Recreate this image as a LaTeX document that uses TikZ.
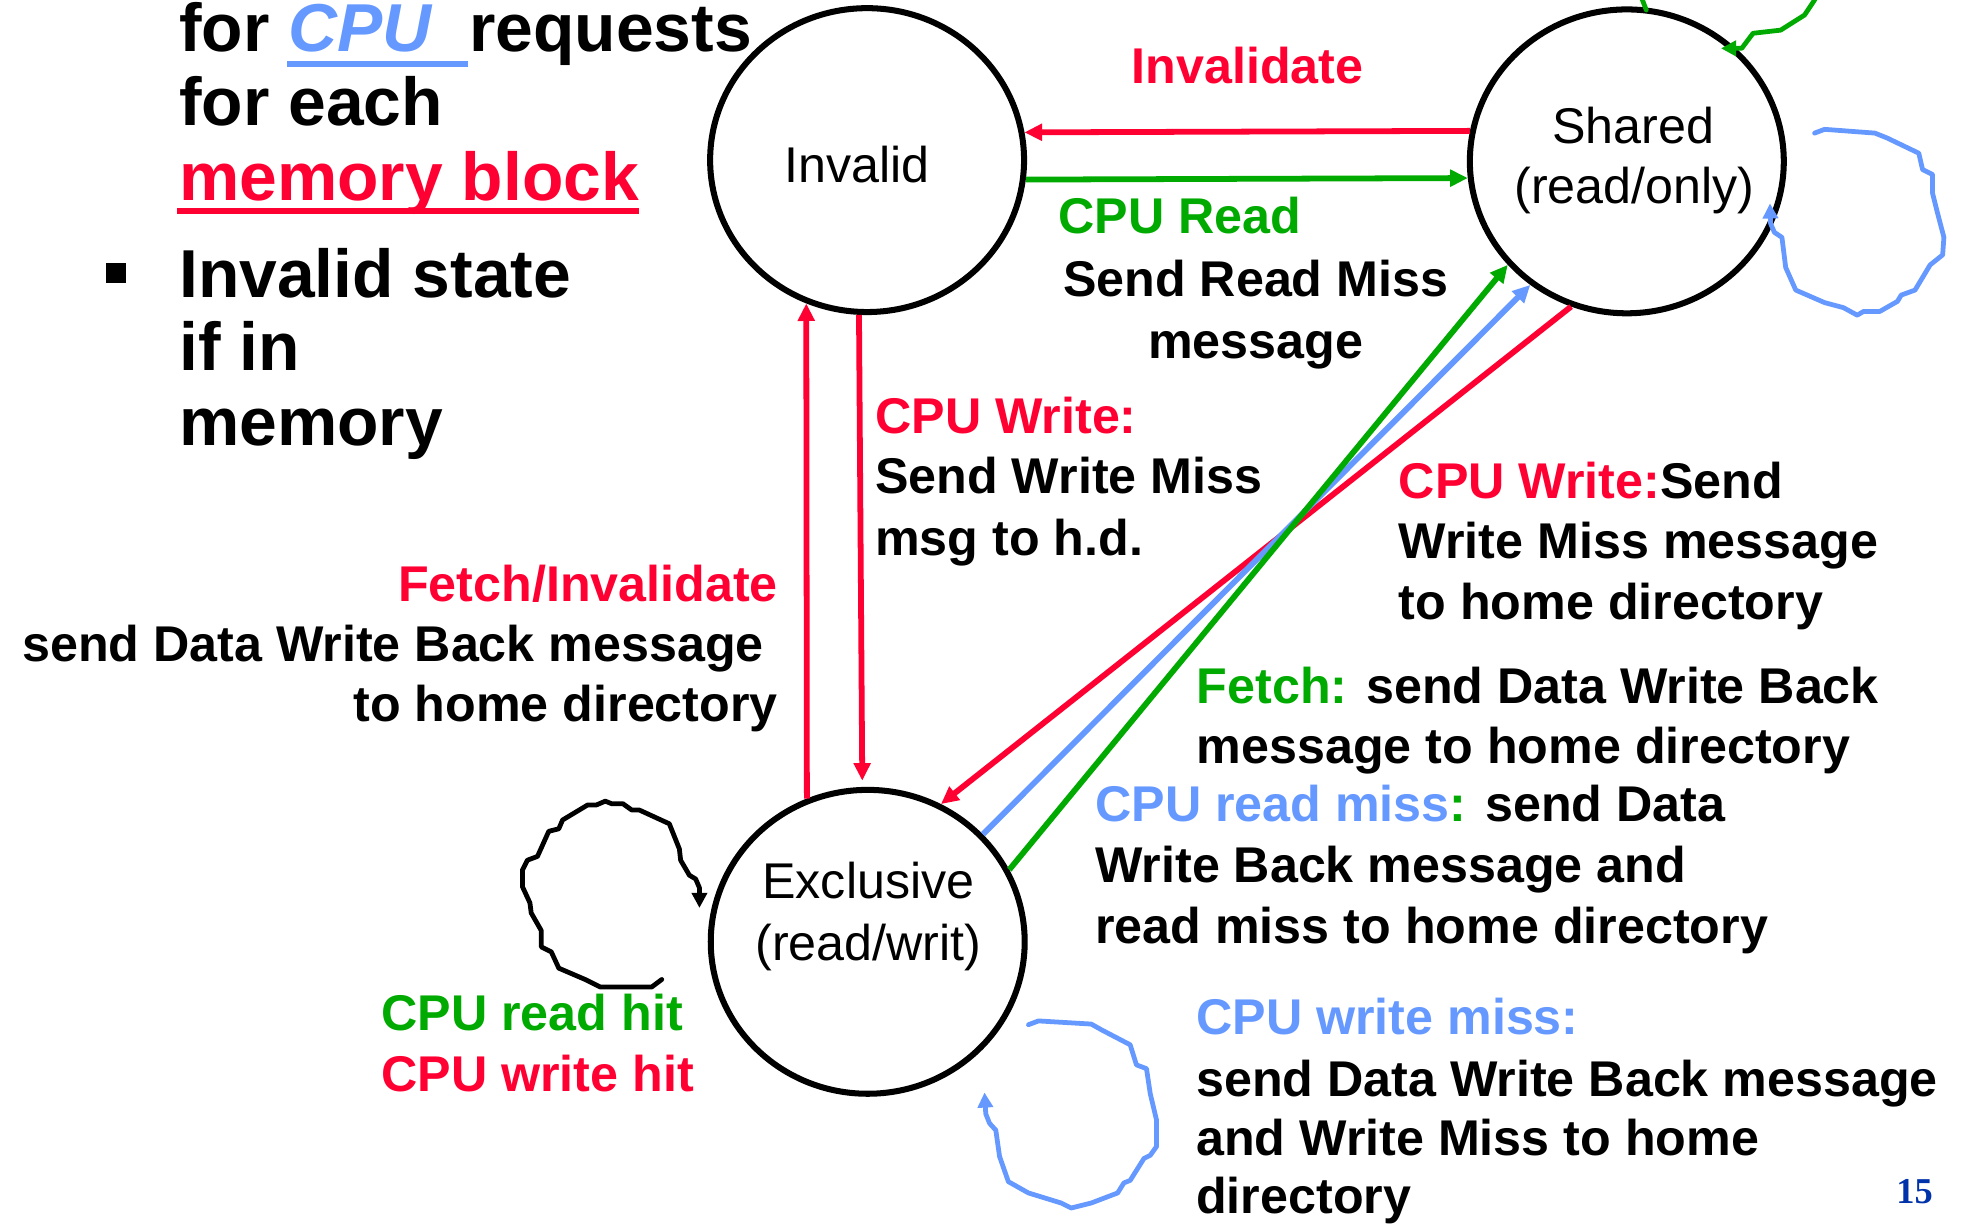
\documentclass[tikz,border=0pt]{standalone}
\usepackage{fontspec}
\setmainfont{Liberation Sans}
\newfontfamily\serifnum{Liberation Serif}
\usetikzlibrary{arrows.meta,shapes.geometric}
\definecolor{cred}{RGB}{255,0,51}
\definecolor{cgreen}{RGB}{0,170,0}
\definecolor{cblue}{RGB}{102,153,255}
\definecolor{cnavy}{RGB}{0,51,170}
\begin{document}
\begin{tikzpicture}[x=1pt,y=-1pt,
  state/.style={ellipse, draw, line width=4.8pt, minimum width=250pt, minimum height=242pt, inner sep=0pt},
  lbl/.style={anchor=base west, inner sep=0pt, font=\fontsize{40}{48}\selectfont\bfseries},
  lblr/.style={lbl, anchor=base east},
  lblc/.style={lbl, anchor=base},
  big/.style={anchor=base west, inner sep=0pt, font=\fontsize{54}{59}\selectfont\bfseries},
  stext/.style={anchor=base, inner sep=0pt, font=\fontsize{40}{48}\selectfont},
  conn/.style={line width=4.6pt, -{Triangle[length=14pt,width=13pt]}},
  loopc/.style={line width=3.8pt, line join=round, line cap=round, -{Triangle[length=12pt,width=12pt]}},
]
\clip (0,0) rectangle (1568,976);
\fill[white] (0,0) rectangle (1568,976);

% states
\node[state] (inv) at (690.5,127.5) {};
\node[state] (sh) at (1295.5,128.5) {};
\node[state] (ex) at (691,750) {};
\node[stext] (invl) at (682.5,145.5) {Invalid};
\node[stext] (shl1) at (1300.6,114) {Shared};
\node[stext] (shl2) at (1301.5,162) {(read/only)};
\node[stext] (exl1) at (691.5,715.4) {Exclusive};
\node[stext] (exl2) at (691.5,764.5) {(read/writ)};

% connectors
\draw[conn, cred] (sh.169.1) -- (inv.10.3);
\draw[conn, cgreen] (inv.-7) -- (sh.186.6);
\draw[conn, cred, shorten >=5pt] (inv.267.4) -- (ex.92.6);
\draw[conn, cred] (ex.113.5) -- (inv.247.1);
\draw[conn, cred] (sh.249.5) -- (ex.62.8);
\draw[conn, cblue] (ex.43.2) -- (sh.232);
\draw[conn, cgreen] (ex.27) -- (sh.221);

% self loops
\draw[loopc, black] (527,780) -- (519,786) -- (478,786) -- (466,780) -- (445,771) -- (439,758) -- (431,754) -- (431,741) -- (423,727) -- (422,719) -- (416,706) -- (416,693) -- (420,685) -- (428,682) -- (437,662) -- (445,660) -- (448,653) -- (468,641) -- (475,641) -- (482,638) -- (487,640) -- (496,640) -- (503,645) -- (509,645) -- (533,656) -- (541,676) -- (542,685) -- (549,697) -- (554,700) -- (557,707) -- (557,723);
\draw[loopc, cblue] (1445,106) -- (1453,103) -- (1493,106) -- (1503,110) -- (1528,122) -- (1531,135) -- (1539,139) -- (1539,154) -- (1543,170) -- (1548,189) -- (1547,203) -- (1537,211) -- (1525,231) -- (1514,235) -- (1511,240) -- (1497,248) -- (1484,248) -- (1479,251) -- (1468,245) -- (1453,241) -- (1430,231) -- (1422,213) -- (1419,189) -- (1413,185) -- (1410,178) -- (1409.5,162);
\draw[loopc, cblue] (819,816) -- (827,813) -- (869,815.5) -- (877,820) -- (900,832) -- (905,848) -- (913,851) -- (916,871) -- (921,892) -- (921,913) -- (916,920) -- (911,922.5) -- (900,940) -- (895,942) -- (890,950) -- (869,958) -- (853,962) -- (845,958) -- (832,954) -- (819,950) -- (803,941) -- (796,921) -- (793,900) -- (788,894.5) -- (785,887) -- (784,870);
\draw[line width=3.8pt, cgreen, line cap=round] (1311,8) -- (1306,-5);
\draw[loopc, cgreen] (1447,-5) -- (1445,0) -- (1437,12) -- (1418,24) -- (1396,26.5) -- (1387,38.5) -- (1370.5,38.5);

% top-left text
\node[big] (t1) at (142.5,41.2) {for \textcolor{cblue}{\itshape CPU}\ \ requests};
\fill[cblue] (228.8,48.5) rectangle (373,53.3);
\node[big] (t2) at (142.5,100.3) {for each};
\node[big, text=cred] (t3) at (142.5,159.3) {memory block};
\fill[cred] (141,166) rectangle (508.8,170.8);
\node[fill=black, inner sep=0pt, minimum width=16pt, minimum height=15.5pt] (bul) at (92.5,217.5) {};
\node[big] (t4) at (142.5,237) {Invalid state};
\node[big] (t5) at (142.5,295.2) {if in};
\node[big] (t6) at (142.5,354.4) {memory};

% labels
\node[lbl, text=cred] (inval) at (901,66.4) {Invalidate};
\node[lbl, text=cgreen] (cpr) at (842.8,186) {CPU Read};
\node[lblc] (srm1) at (1000,236) {Send Read Miss};
\node[lblc] (srm2) at (1000,285.4) {message};

\node[lbl, text=cred] (cw1) at (696.8,345) {CPU Write:};
\node[lbl] (cw2) at (696.8,393) {Send Write Miss};
\node[lbl] (cw3) at (696.8,442) {msg to h.d.};

\node[lblr, text=cred] (fi1) at (619.6,479.2) {Fetch/Invalidate};
\node[lblr] (fi2) at (608.5,527) {send Data Write Back message};
\node[lblr] (fi3) at (619.6,574.7) {to home directory};

\node[lbl] (dw1) at (1113.8,396.9) {\textcolor{cred}{CPU Write:}Send};
\node[lbl] (dw2) at (1113.8,444.6) {Write Miss message};
\node[lbl] (dw3) at (1113.8,493.7) {to home directory};

\node[lbl] (fe1) at (952.9,560.1) {\textcolor{cgreen}{Fetch:} send Data Write Back};
\node[lbl] (fe2) at (952.9,607.9) {message to home directory};

\node[lbl] (rm1) at (872,654.3) {\textcolor{cblue}{CPU read miss}\textcolor{cgreen}{:} send Data};
\node[lbl] (rm2) at (872,703) {Write Back message and};
\node[lbl] (rm3) at (872,751.5) {read miss to home directory};

\node[lbl, text=cgreen] (rh) at (303.5,820.3) {CPU read hit};
\node[lbl, text=cred] (wh) at (303.5,869.4) {CPU write hit};

\node[lbl, text=cblue] (wm1) at (952.4,824.2) {CPU write miss:};
\node[lbl] (wm2) at (952.4,873.4) {send Data Write Back message};
\node[lbl] (wm3) at (952.4,919.8) {and Write Miss to home};
\node[lbl] (wm4) at (952.4,966.2) {directory};

\node[anchor=base west, inner sep=0pt, text=cnavy, font=\fontsize{29}{30}\selectfont\serifnum\bfseries] (pg) at (1510,958.3) {15};
\end{tikzpicture}
\end{document}
